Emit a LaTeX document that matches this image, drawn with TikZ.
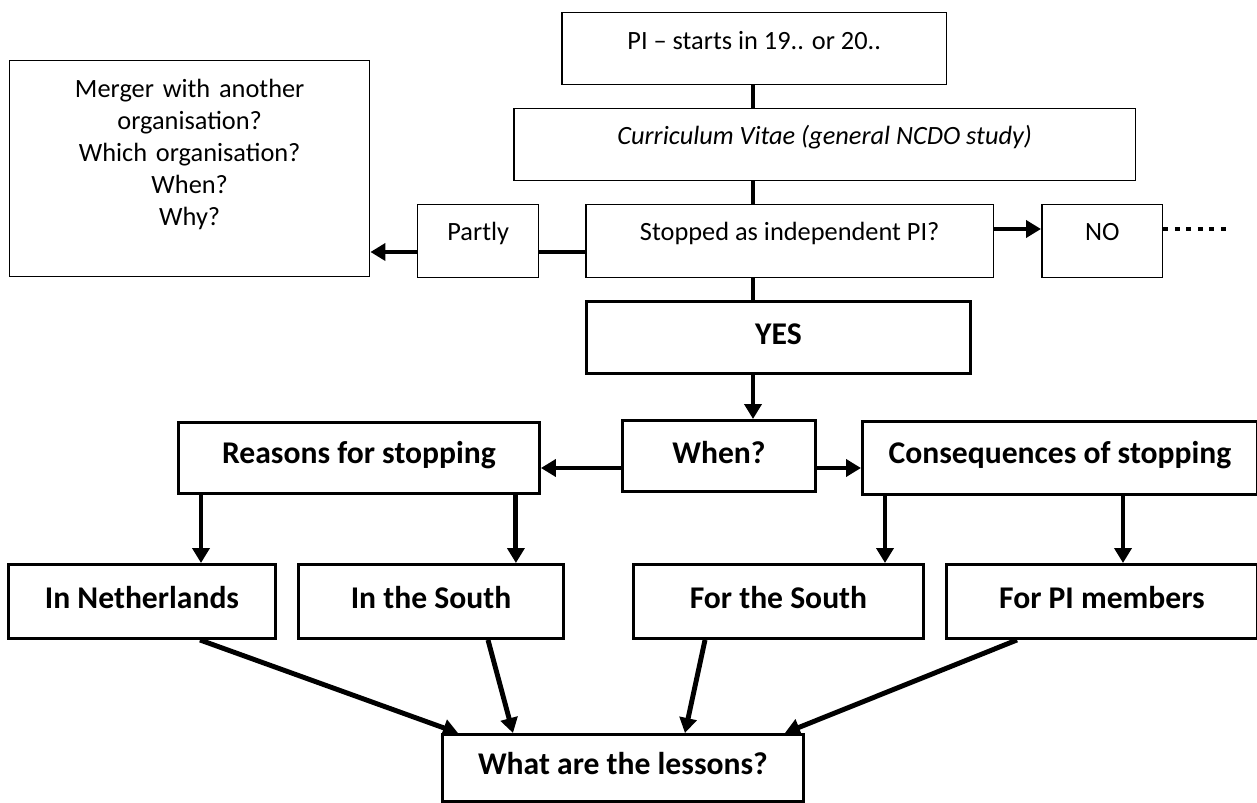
\documentclass[tikz,border=0pt]{standalone}
\usepackage{fontspec}
\setmainfont{Carlito}
\usetikzlibrary{arrows.meta}
\newcommand{\nsz}{\fontsize{15}{18.2}\selectfont}
\newcommand{\bsz}{\fontsize{18}{21.6}\selectfont\bfseries}
\tikzset{
  box/.style={draw, line width=0.85pt, inner sep=0pt, anchor=north west, font=\nsz},
  bbox/.style={box, line width=1.7pt, font=\bsz},
  link/.style={line width=2.8pt},
  arr/.style={line width=2.8pt, -{Triangle[length=0.3cm,width=0.34cm]}},
  dotline/.style={line width=2.8pt, dash pattern=on 0.1cm off 0.13cm}
}

\begin{document}
\begin{tikzpicture}[x=0.02cm,y=-0.02cm]
  \useasboundingbox (0,0) rectangle (1257,803);
  \node[box, minimum width=7.70cm, text height=0.74cm, text depth=0.70cm] (start) at (561,12) {PI – starts in 19.. or 20..};
  \node[box, minimum width=12.44cm, text height=0.72cm, text depth=0.72cm] (cv) at (513,108) {\itshape Curriculum Vitae (general NCDO study)};
  \node[box, minimum width=8.16cm, text height=0.72cm, text depth=0.74cm] (stop) at (585,204) {Stopped as independent PI?};
  \node[box, minimum width=2.42cm, text height=0.72cm, text depth=0.74cm] (partly) at (417,204) {Partly};
  \node[box, minimum width=2.42cm, text height=0.72cm, text depth=0.74cm] (no) at (1041,204) {NO};
  \node[box, text width=7.2cm, align=center, text height=0.74cm, text depth=3.58cm] (merger) at (9,60)
    {Merger with another\\organisation?\\Which organisation?\\When?\\Why?};
  \node[bbox, minimum width=7.68cm, text height=0.86cm, text depth=0.58cm] (yes) at (585,300) {YES};
  \node[bbox, minimum width=3.86cm, text height=0.86cm, text depth=0.56cm] (when) at (621,419) {When?};
  \node[bbox, minimum width=7.22cm, text height=0.82cm, text depth=0.60cm] (reasons) at (177,421) {Reasons for stopping};
  \node[bbox, minimum width=7.90cm, text height=0.84cm, text depth=0.62cm] (cons) at (861,420) {Consequences of stopping};
  \node[bbox, minimum width=5.34cm, text height=0.88cm, text depth=0.60cm] (neth) at (7,563) {In Netherlands};
  \node[bbox, minimum width=5.30cm, text height=0.88cm, text depth=0.60cm] (south) at (297,563) {In the South};
  \node[bbox, minimum width=5.80cm, text height=0.88cm, text depth=0.60cm] (fsouth) at (632,563) {For the South};
  \node[bbox, minimum width=6.22cm, text height=0.88cm, text depth=0.60cm] (members) at (945,563) {For PI members};
  \node[bbox, minimum width=7.22cm, text height=0.80cm, text depth=0.54cm] (lessons) at (441,733) {What are the lessons?};

  \coordinate (spine) at (753,0);
  \coordinate (hirow) at (0,229);
  \coordinate (lowrow) at (0,252);
  \coordinate (midrow) at (0,468);
  \coordinate (dots) at (1227,229);

  \draw[link] (spine |- start.south) -- (spine |- cv.north);
  \draw[link] (spine |- cv.south) -- (spine |- stop.north);
  \draw[link] (spine |- stop.south) -- (spine |- yes.north);
  \draw[arr] (spine |- yes.south) -- (spine |- when.north);
  \draw[link] (stop.west |- lowrow) -- (partly.east |- lowrow);
  \draw[arr] (partly.west |- lowrow) -- (merger.east |- lowrow);
  \draw[arr] (stop.east |- hirow) -- (no.west |- hirow);
  \draw[dotline] (no.east |- hirow) -- (dots);
  \draw[arr] (when.west |- midrow) -- (reasons.east |- midrow);
  \draw[arr] (when.east |- midrow) -- (cons.west |- midrow);

  \draw[arr] (reasons.south west) ++(24,0) coordinate (r1) -- (r1 |- neth.north);
  \draw[arr] (reasons.south east) ++(-25,0) coordinate (r2) -- (r2 |- south.north);
  \draw[arr] (cons.south west) ++(24,0) coordinate (c1) -- (c1 |- fsouth.north);
  \draw[arr] (cons.south west) ++(262,0) coordinate (c2) -- (c2 |- members.north);

  \draw[arr] (neth.south west) ++(193,0) -- ([xshift=0.34cm]lessons.north west);
  \draw[arr] (south.south west) ++(191,0) -- ([xshift=1.44cm]lessons.north west);
  \draw[arr] (fsouth.south west) ++(73,0) -- ([xshift=-2.40cm]lessons.north east);
  \draw[arr] (members.south west) ++(72,0) -- ([xshift=-0.40cm]lessons.north east);
\end{tikzpicture}
\end{document}
